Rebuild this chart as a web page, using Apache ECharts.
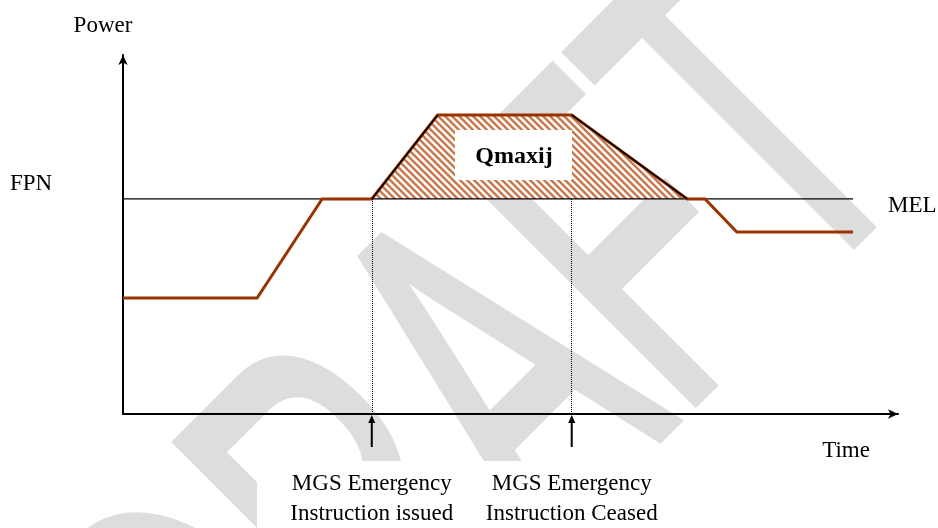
<!DOCTYPE html>
<html>
<head>
<meta charset="utf-8">
<script src="https://cdn.jsdelivr.net/npm/echarts@6/dist/echarts.min.js"></script>
<style>
  html, body { margin: 0; padding: 0; background: #fff; }
  #main { width: 938px; height: 528px; }
</style>
</head>
<body>
<div id="main"></div>
<script>
// profile of the unit output (time units, power units)
var times = [0, 17.3, 25.7, 32.1, 40.6, 57.9, 72.8, 75.1, 79.2, 94.2];
var power = [32.3, 32.3, 59.9, 59.9, 83.3, 83.3, 59.9, 59.9, 50.7, 50.7];
var melLevel = 59.9;
var melEnd = 94.2;
var issuedAt = 32.1;   // MGS emergency instruction issued
var ceasedAt = 57.9;   // MGS emergency instruction ceased
var qStart = 3, qEnd = 6; // indices of the Qmaxij excursion in the profile

var serif = '"Liberation Serif", "DejaVu Serif", serif';
var brown = '#993300';

(function(){
  var chart = echarts.init(document.getElementById('main'));

  // hatch tile for the Qmaxij area
  var tile = document.createElement('canvas');
  tile.width = 7; tile.height = 7;
  var ctx = tile.getContext('2d');
  ctx.fillStyle = '#ffffff';
  ctx.fillRect(0, 0, 7, 7);
  ctx.strokeStyle = '#c8784a';
  ctx.lineWidth = 2.5;
  for (var k = -7; k <= 7; k += 7) {
    ctx.beginPath();
    ctx.moveTo(k - 1, -1);
    ctx.lineTo(k + 8, 8);
    ctx.stroke();
  }

  var profile = times.map(function (t, i) { return [t, power[i]]; });
  var excursion = profile.slice(qStart, qEnd + 1);

  var option = {
    animation: false,
    grid: { left: 123, right: 40, top: 55, bottom: 114 },
    xAxis: {
      type: 'value', min: 0, max: 100,
      axisLine: { show: true, symbol: ['none', 'arrow'], symbolSize: [7, 10],
        lineStyle: { color: '#000', width: 2 } },
      axisTick: { show: false }, axisLabel: { show: false }, splitLine: { show: false }
    },
    yAxis: {
      type: 'value', min: 0, max: 100,
      axisLine: { show: true, symbol: ['none', 'arrow'], symbolSize: [7, 10],
        lineStyle: { color: '#000', width: 2 } },
      axisTick: { show: false }, axisLabel: { show: false }, splitLine: { show: false }
    },
    series: [
      {
        name: 'Qmaxij', type: 'line', z: 2, data: excursion,
        symbol: 'none', lineStyle: { width: 0 },
        areaStyle: { origin: melLevel, opacity: 1, color: { image: tile, repeat: 'repeat' } }
      },
      {
        name: 'MEL', type: 'line', z: 3, data: [[0, melLevel], [melEnd, melLevel]],
        symbol: 'none', lineStyle: { color: '#000', width: 1.2 },
        markLine: {
          silent: true, symbol: 'none', label: { show: false },
          lineStyle: { color: '#000', width: 1, type: 'dotted' },
          data: [
            [{ coord: [issuedAt, 0] }, { coord: [issuedAt, melLevel] }],
            [{ coord: [ceasedAt, 0] }, { coord: [ceasedAt, melLevel] }]
          ]
        }
      },
      {
        name: 'Power', type: 'line', z: 4, data: profile,
        symbol: 'none', lineStyle: { color: brown, width: 3, join: 'miter' }
      },
      {
        name: 'rampUp', type: 'line', z: 5, data: profile.slice(qStart, qStart + 2),
        symbol: 'none', lineStyle: { color: '#000', width: 1.5 }
      },
      {
        name: 'rampDown', type: 'line', z: 5, data: profile.slice(qEnd - 1, qEnd + 1),
        symbol: 'none', lineStyle: { color: '#000', width: 1.5 }
      }
    ]
  };
  chart.setOption(option);

  var xIssued = chart.convertToPixel({ xAxisIndex: 0 }, issuedAt);
  var xCeased = chart.convertToPixel({ xAxisIndex: 0 }, ceasedAt);
  var yBase = chart.convertToPixel({ yAxisIndex: 0 }, 0);

  function arrowUp(x) {
    return [
      { type: 'line', z: 6, shape: { x1: x, y1: yBase + 33, x2: x, y2: yBase + 6 },
        style: { stroke: '#000', lineWidth: 2 } },
      { type: 'polygon', z: 6,
        shape: { points: [[x - 3.5, yBase + 9], [x + 3.5, yBase + 9], [x, yBase + 1]] },
        style: { fill: '#000' } }
    ];
  }

  var graphics = [
    // DRAFT watermark
    { type: 'text', z: -1, x: 158, y: 748, rotation: Math.PI / 4, scaleX: 0.58,
      style: { text: 'DRAFT', font: '490px "Liberation Sans"', fill: '#dddddd',
        stroke: '#dddddd', lineWidth: 10, lineJoin: 'round',
        textAlign: 'left', textVerticalAlign: 'middle' } },
    // white label boxes
    { type: 'rect', z: 1, shape: { x: 257, y: 461, width: 232, height: 67 }, style: { fill: '#fff' } },
    { type: 'rect', z: 1, shape: { x: 489, y: 461, width: 200, height: 67 }, style: { fill: '#fff' } },
    { type: 'rect', z: 7, shape: { x: 455, y: 130, width: 117, height: 50 }, style: { fill: '#fff' } },
    { type: 'text', z: 8, x: 514, y: 157,
      style: { text: 'Qmaxij', font: 'bold 24px ' + serif, fill: '#000', textAlign: 'center', textVerticalAlign: 'middle' } },
    { type: 'text', z: 8, x: 103, y: 26,
      style: { text: 'Power', font: '23px ' + serif, fill: '#000', textAlign: 'center', textVerticalAlign: 'middle' } },
    { type: 'text', z: 8, x: 10, y: 184,
      style: { text: 'FPN', font: '23px ' + serif, fill: '#000', textAlign: 'left', textVerticalAlign: 'middle' } },
    { type: 'text', z: 8, x: 888, y: 206,
      style: { text: 'MEL', font: '23px ' + serif, fill: '#000', textAlign: 'left', textVerticalAlign: 'middle' } },
    { type: 'text', z: 8, x: 846, y: 451,
      style: { text: 'Time', font: '23px ' + serif, fill: '#000', textAlign: 'center', textVerticalAlign: 'middle' } },
    { type: 'text', z: 8, x: xIssued, y: 469,
      style: { text: 'MGS Emergency\nInstruction issued', font: '23px ' + serif, lineHeight: 30,
        fill: '#000', textAlign: 'center', textVerticalAlign: 'top' } },
    { type: 'text', z: 8, x: xCeased, y: 469,
      style: { text: 'MGS Emergency\nInstruction Ceased', font: '23px ' + serif, lineHeight: 30,
        fill: '#000', textAlign: 'center', textVerticalAlign: 'top' } }
  ].concat(arrowUp(xIssued), arrowUp(xCeased));

  chart.setOption({ graphic: graphics });
})();
</script>
</body>
</html>
